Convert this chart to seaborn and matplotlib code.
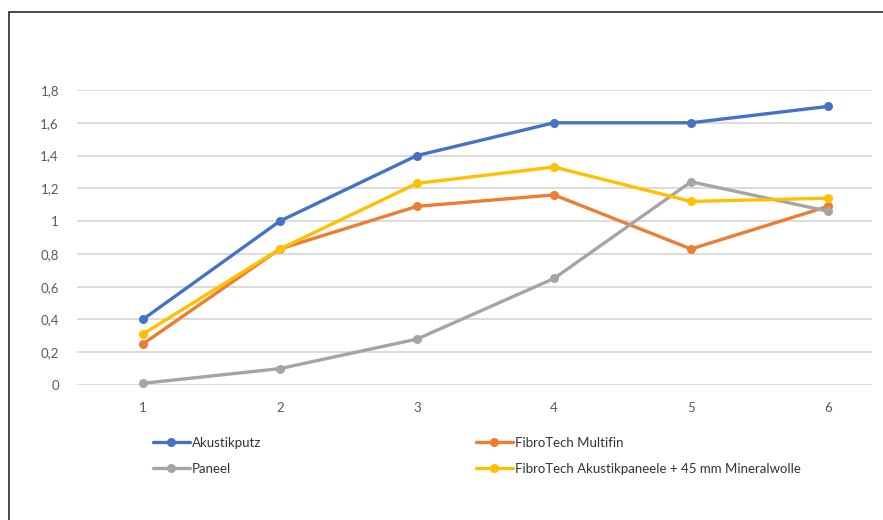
import pandas as pd
import matplotlib
matplotlib.use('Agg')
import matplotlib.pyplot as plt
from matplotlib.patches import Rectangle
from matplotlib.ticker import FuncFormatter
import seaborn as sns

# Data
x_values = [1, 2, 3, 4, 5, 6]
akustikputz = [0.40, 1.00, 1.40, 1.60, 1.60, 1.70]
multifin = [0.25, 0.83, 1.09, 1.16, 0.83, 1.09]
paneel = [0.01, 0.10, 0.28, 0.65, 1.24, 1.06]
akustikpaneele = [0.31, 0.83, 1.23, 1.33, 1.12, 1.14]

series_names = ['Akustikputz', 'FibroTech Multifin', 'Paneel',
                'FibroTech Akustikpaneele + 45 mm Mineralwolle']
series_values = [akustikputz, multifin, paneel, akustikpaneele]
colors = ['#4472C4', '#ED7D31', '#A5A5A5', '#FFC000']
y_ticks = [0, 0.2, 0.4, 0.6, 0.8, 1.0, 1.2, 1.4, 1.6, 1.8]

# Build long DataFrame
df = pd.DataFrame({
    'x': x_values * len(series_names),
    'value': [v for vals in series_values for v in vals],
    'series': [n for n in series_names for _ in x_values],
})

sns.set_style('white')
plt.rcParams['font.family'] = ['Lato', 'DejaVu Sans']

fig = plt.figure(figsize=(8.83, 5.2), dpi=100)
ax = fig.add_axes([77 / 883, 1 - 385 / 520, 795 / 883, 295 / 520])

sns.lineplot(data=df, x='x', y='value', hue='series', hue_order=series_names,
             palette=colors, marker='o', markersize=6.5, markeredgewidth=0,
             linewidth=2.4, ax=ax, legend=True)

# Axes styling
ax.set_xlim(0.52, 6.32)
ax.set_ylim(0, 1.8)
ax.set_xticks(x_values)
ax.set_yticks(y_ticks)
ax.yaxis.set_major_formatter(FuncFormatter(
    lambda v, _: ('%g' % round(v, 1)).replace('.', ',')))
ax.grid(axis='y', color='#D9D9D9', linewidth=1.3)
ax.set_axisbelow(True)
for s in ax.spines.values():
    s.set_visible(False)
ax.tick_params(axis='both', length=0, labelsize=9.5, colors='#595959')
ax.tick_params(axis='y', pad=13)
ax.tick_params(axis='x', pad=12)
ax.set_xlabel('')
ax.set_ylabel('')
for line in ax.lines:
    line.set_clip_on(False)

# Two-column legend placed like the original
handles, labels = ax.get_legend_handles_labels()
ax.get_legend().remove()
hmap = dict(zip(labels, handles))
leg_kw = dict(frameon=False, fontsize=9.5, handlelength=2.8, handletextpad=0.15,
              labelspacing=1.05, borderpad=0, borderaxespad=0,
              loc='upper left', labelcolor='#333333')
fig.legend([hmap['Akustikputz'], hmap['Paneel']], ['Akustikputz', 'Paneel'],
           bbox_to_anchor=(153 / 883, 1 - 437 / 520), **leg_kw)
fig.legend([hmap['FibroTech Multifin'],
            hmap['FibroTech Akustikpaneele + 45 mm Mineralwolle']],
           ['FibroTech Multifin', 'FibroTech Akustikpaneele + 45 mm Mineralwolle'],
           bbox_to_anchor=(476 / 883, 1 - 437 / 520), **leg_kw)

# Outer frame around the chart
fig.add_artist(Rectangle((8.5 / 883, -0.1), 1.2, 1 - 11.5 / 520 + 0.1,
                         transform=fig.transFigure, fill=False,
                         edgecolor='#3a3a3a', linewidth=1.3))

plt.savefig('out.png', dpi=100)
